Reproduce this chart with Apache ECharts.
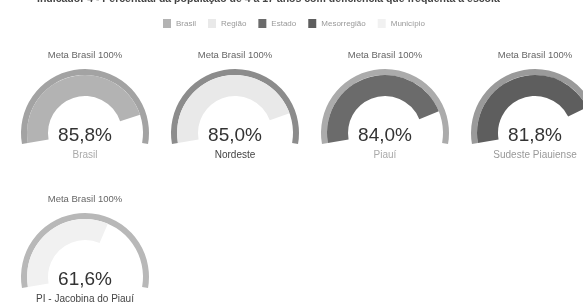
<!DOCTYPE html>
<html><head><meta charset="utf-8">
<script src="https://cdn.jsdelivr.net/npm/echarts@6/dist/echarts.min.js"></script>
<style>html,body{margin:0;padding:0;background:#fff}#c{width:583px;height:303px}</style>
</head><body><div id="c"></div>
<script>
const titleText = 'Indicador 4 - Percentual da população de 4 a 17 anos com deficiência que frequenta a escola';
const legendNames = ['Brasil', 'Região', 'Estado', 'Mesorregião', 'Município'];
const places = ['Brasil', 'Nordeste', 'Piauí', 'Sudeste Piauiense', 'PI - Jacobina do Piauí'];
const values = [85.8, 85.0, 84.0, 81.8, 61.6];
const metaValue = 100;
const metaLabel = 'Meta Brasil 100%';

const bandColors = ['#b3b3b3', '#e9e9e9', '#6b6b6b', '#5e5e5e', '#f1f1f1'];
const ringColors = ['#a3a3a3', '#8c8c8c', '#ababab', '#9a9a9a', '#b8b8b8'];
const labelColors = ['#aaa', '#444', '#aaa', '#999', '#444'];
const centers = [[85, 133], [235, 133], [385, 133], [535, 133], [85, 277]];

const fmt = v => v.toFixed(1).replace('.', ',') + '%';
const FONT = 'Liberation Sans';
const series = [];
values.forEach((v, i) => {
  const common = {
    type: 'gauge', center: centers[i], startAngle: 190, endAngle: -10,
    min: 0, max: 100,
    splitLine: {show: false}, axisTick: {show: false}, axisLabel: {show: false},
    pointer: {show: false}, anchor: {show: false}, silent: true, animation: false
  };
  series.push(Object.assign({}, common, {
    name: 'meta' + i, radius: 64,
    axisLine: {lineStyle: {width: 6, color: [[1, ringColors[i]]]}},
    progress: {show: false},
    title: {show: true, offsetCenter: [0, -78], fontSize: 9.5, color: '#666', fontFamily: FONT},
    detail: {show: false},
    data: [{value: metaValue, name: metaLabel}]
  }));
  series.push(Object.assign({}, common, {
    name: legendNames[i], radius: 58,
    itemStyle: {color: bandColors[i]},
    axisLine: {lineStyle: {width: 21, color: [[1, 'rgba(0,0,0,0)']]}},
    progress: {show: true, width: 21, itemStyle: {color: bandColors[i]}},
    title: {show: true, offsetCenter: [0, 22], fontSize: 10, color: labelColors[i], fontFamily: FONT},
    detail: {show: true, offsetCenter: [0, 3], fontSize: 19, color: '#333', fontWeight: 'normal',
             fontFamily: FONT, formatter: fmt, valueAnimation: false},
    data: [{value: v, name: places[i]}]
  }));
});

const chart = echarts.init(document.getElementById('c'));
chart.setOption({
  animation: false,
  title: {text: titleText, left: 32, top: -11,
          textStyle: {fontSize: 10.5, fontWeight: 'bold', color: '#444', fontFamily: FONT}},
  legend: {data: legendNames, left: 158, top: 14, itemWidth: 8, itemHeight: 9, itemGap: 12,
           icon: 'rect', selectedMode: false,
           textStyle: {fontSize: 8, color: '#999', fontFamily: FONT}},
  series: series
});
</script></body></html>
